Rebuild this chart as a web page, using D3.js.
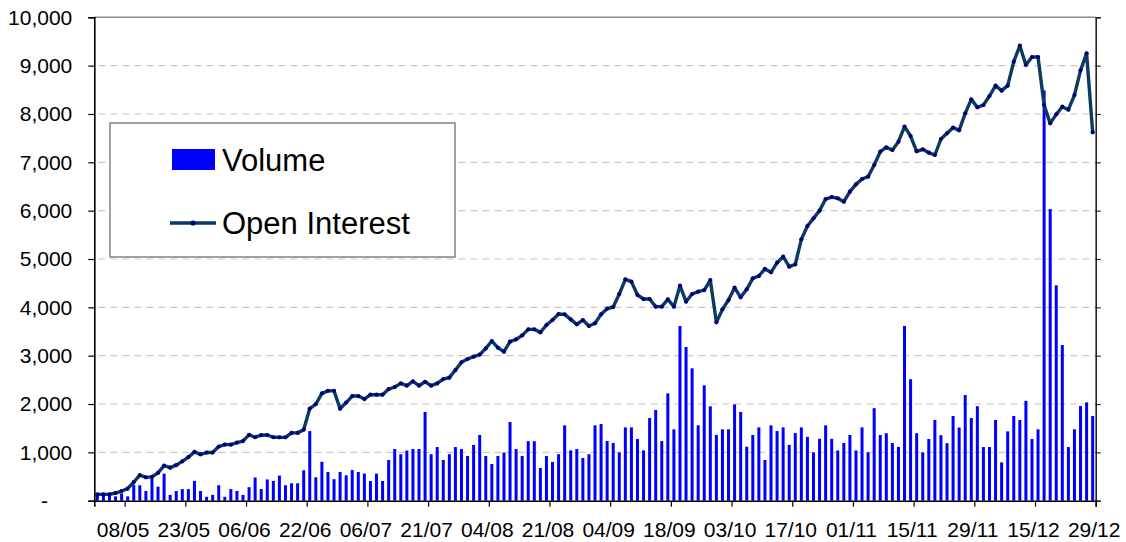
<!DOCTYPE html>
<html>
<head>
<meta charset="utf-8">
<script src="https://cdn.jsdelivr.net/npm/d3@7"></script>
<style>
  html, body { margin: 0; padding: 0; background: #ffffff; }
  svg { display: block; font-family: "Liberation Sans", Arial, sans-serif; }
</style>
</head>
<body>
<svg id="chart" width="1126" height="542"></svg>
<script>
// ---------------- DATA ----------------
const volume = [
  150, 120, 100, 90, 150, 90, 330, 320, 200, 460,
  290, 560, 120, 200, 240, 240, 410, 200, 80, 120,
  320, 80, 240, 200, 120, 280, 480, 240, 440, 410,
  520, 320, 360, 360, 630, 1440, 485, 805, 593, 445,
  593, 524, 634, 593, 560, 407, 560, 407, 841, 1069,
  960, 1038, 1069, 1069, 1836, 962, 1110, 841, 962, 1110,
  1069, 924, 1152, 1359, 924, 758, 924, 997, 1627, 1069,
  924, 1231, 1231, 676, 924, 800, 962, 1559, 1041, 1069,
  883, 962, 1559, 1586, 1234, 1193, 1000, 1517, 1517, 1276,
  1041, 1710, 1876, 1234, 2221, 1476, 3614, 3179, 2738, 1559,
  2386, 1952, 1359, 1476, 1476, 1993, 1834, 1117, 1359, 1517,
  841, 1559, 1441, 1517, 1155, 1400, 1517, 1320, 1000, 1280,
  1559, 1280, 1038, 1193, 1359, 1038, 1517, 1000, 1914, 1359,
  1396, 1193, 1114, 3614, 2514, 1396, 1000, 1276, 1669, 1355,
  1190, 1752, 1514, 2186, 1710, 1955, 1110, 1110, 1669, 793,
  1434, 1752, 1669, 2065, 1276, 1476, 8489, 6034, 4455, 3220,
  1110, 1476, 1958, 2034, 1752
];
const openInterest = [
  131, 131, 131, 159, 200, 248, 386, 528, 483, 493,
  575, 724, 683, 735, 814, 900, 1010, 958, 996, 996,
  1120, 1162, 1159, 1200, 1234, 1362, 1313, 1355, 1359, 1313,
  1310, 1310, 1403, 1403, 1469, 1906, 1996, 2220, 2272, 2272,
  1903, 2030, 2165, 2165, 2103, 2193, 2193, 2193, 2310, 2352,
  2427, 2379, 2469, 2379, 2460, 2380, 2427, 2517, 2545, 2703,
  2862, 2931, 2979, 3020, 3151, 3303, 3165, 3082, 3290, 3338,
  3420, 3545, 3545, 3482, 3634, 3738, 3862, 3855, 3751, 3648,
  3738, 3613, 3670, 3855, 3972, 4007, 4276, 4579, 4531, 4255,
  4172, 4172, 4014, 4014, 4165, 4014, 4448, 4117, 4276, 4324,
  4358, 4565, 3689, 3958, 4151, 4407, 4207, 4372, 4600, 4648,
  4795, 4724, 4924, 5048, 4841, 4889, 5406, 5682, 5841, 6000,
  6241, 6282, 6255, 6186, 6393, 6544, 6655, 6703, 6944, 7220,
  7310, 7255, 7427, 7740, 7544, 7227, 7268, 7200, 7151, 7482,
  7599, 7717, 7661, 8013, 8303, 8137, 8186, 8372, 8586, 8482,
  8586, 9082, 9413, 9013, 9179, 9179, 8186, 7806, 7992, 8151,
  8089, 8392, 8903, 9254, 7620
];
const tickLabels = ["08/05", "23/05", "06/06", "22/06", "06/07", "21/07", "04/08", "21/08",
  "04/09", "18/09", "03/10", "17/10", "01/11", "15/11", "29/11", "15/12", "29/12"];
const tickBoundaries = [5, 15, 25, 35, 45, 55, 65, 75, 85, 95, 105, 115, 125, 135, 145, 155, 165];
const yTicks = [0, 1000, 2000, 3000, 4000, 5000, 6000, 7000, 8000, 9000, 10000];
const seriesNames = ["Volume", "Open Interest"];

// ---------------- LAYOUT ----------------
const svg = d3.select("#chart");
const plotL = 94.3, plotR = 1095.7, plotT = 17.3, plotB = 500.7;
const days = d3.range(volume.length);

const x = d3.scaleBand().domain(days).range([plotL, plotR]).padding(0);
const xb = d3.scaleLinear().domain([0, volume.length]).range([plotL, plotR]);
const y = d3.scaleLinear().domain([0, 10000]).range([plotB, plotT]);

// gridlines
svg.append("g").selectAll("line")
  .data(yTicks.filter(d => d > 0 && d < 10000))
  .join("line")
  .attr("x1", plotL + 4).attr("x2", plotR)
  .attr("y1", d => y(d)).attr("y2", d => y(d))
  .attr("stroke", "#c8c8c8").attr("stroke-width", 1.2)
  .attr("stroke-dasharray", "7,5");

// top border
svg.append("line")
  .attr("x1", plotL).attr("x2", plotR).attr("y1", y(10000)).attr("y2", y(10000))
  .attr("stroke", "#8c8c8c").attr("stroke-width", 1.5);

// bars
const bw = 3;
svg.append("g").selectAll("rect")
  .data(volume)
  .join("rect")
  .attr("x", (d, i) => x(i) + x.bandwidth() / 2 - bw / 2)
  .attr("width", bw)
  .attr("y", d => y(d))
  .attr("height", d => plotB - y(d))
  .attr("fill", "#0000ff");

// line
const line = d3.line()
  .x((d, i) => x(i) + x.bandwidth() / 2)
  .y(d => y(d));
svg.append("path")
  .datum(openInterest)
  .attr("d", line)
  .attr("fill", "none")
  .attr("stroke", "#0a3a5e")
  .attr("stroke-width", 3.4)
  .attr("stroke-linejoin", "round");
svg.append("g").selectAll("circle")
  .data(openInterest)
  .join("circle")
  .attr("cx", (d, i) => x(i) + x.bandwidth() / 2)
  .attr("cy", d => y(d))
  .attr("r", 2.1)
  .attr("fill", "#000080");

// y axis (left)
const yAxis = svg.append("g")
  .attr("transform", `translate(${plotL},0)`)
  .call(d3.axisLeft(y).tickValues(yTicks).tickSize(6).tickPadding(16)
    .tickFormat(d => d === 0 ? "-" : d3.format(",")(d)));
yAxis.select(".domain").attr("stroke", "#000").attr("stroke-width", 1.6);
yAxis.selectAll(".tick line").attr("stroke", "#000").attr("stroke-width", 1.2);
yAxis.selectAll(".tick text")
  .attr("font-size", 21).attr("fill", "#000")
  .attr("font-family", "Liberation Sans, Arial, sans-serif");
yAxis.selectAll(".tick").filter(d => d === 0).select("text")
  .attr("text-anchor", "middle").attr("x", 44.5 - plotL);

// right axis (ticks only)
const rAxis = svg.append("g")
  .attr("transform", `translate(${plotR},0)`)
  .call(d3.axisRight(y).tickValues(yTicks).tickSize(5).tickFormat(""));
rAxis.select(".domain").attr("stroke", "#222").attr("stroke-width", 1.6);
rAxis.selectAll(".tick line").attr("stroke", "#222").attr("stroke-width", 1.2);

// x axis
const xAxis = svg.append("g")
  .attr("transform", `translate(0,${plotB})`)
  .call(d3.axisBottom(xb).tickValues(tickBoundaries).tickSize(6).tickPadding(15)
    .tickFormat((d, i) => tickLabels[i]));
xAxis.select(".domain").attr("stroke", "#000").attr("stroke-width", 1.6);
xAxis.selectAll(".tick line").attr("stroke", "#000").attr("stroke-width", 1.2);
xAxis.selectAll(".tick text")
  .attr("font-size", 21).attr("fill", "#000")
  .attr("dx", "-2")
  .attr("font-family", "Liberation Sans, Arial, sans-serif");

// legend
const lg = svg.append("g");
lg.append("rect")
  .attr("x", 110).attr("y", 123).attr("width", 345).attr("height", 134)
  .attr("fill", "#fff").attr("stroke", "#707070").attr("stroke-width", 1.3);
lg.append("rect")
  .attr("x", 172).attr("y", 149).attr("width", 43).attr("height", 21)
  .attr("fill", "#0000ff");
lg.append("text")
  .attr("x", 222).attr("y", 171)
  .attr("font-size", 31).attr("fill", "#000")
  .text(seriesNames[0]);
lg.append("line")
  .attr("x1", 170).attr("x2", 216).attr("y1", 223).attr("y2", 223)
  .attr("stroke", "#0a3a5e").attr("stroke-width", 3.4);
lg.append("circle")
  .attr("cx", 193).attr("cy", 223).attr("r", 2.6).attr("fill", "#000080");
lg.append("text")
  .attr("x", 222).attr("y", 234)
  .attr("font-size", 31).attr("fill", "#000")
  .text(seriesNames[1]);
</script>
</body>
</html>
